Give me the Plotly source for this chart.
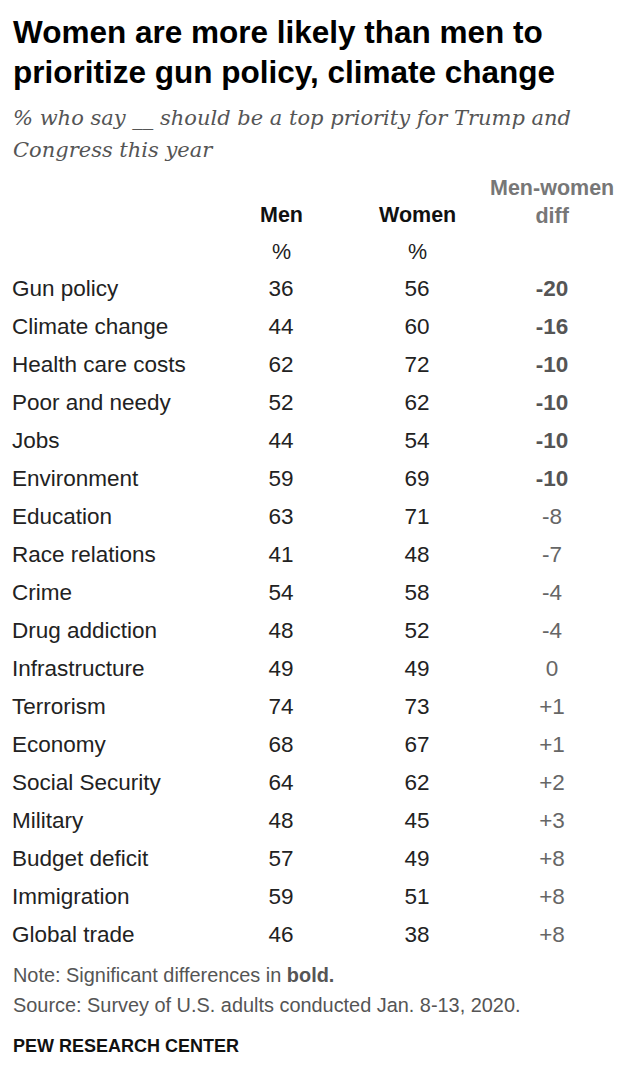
import plotly.graph_objects as go

categories = ["Gun policy", "Climate change", "Health care costs", "Poor and needy", "Jobs",
              "Environment", "Education", "Race relations", "Crime", "Drug addiction",
              "Infrastructure", "Terrorism", "Economy", "Social Security", "Military",
              "Budget deficit", "Immigration", "Global trade"]
men = [36, 44, 62, 52, 44, 59, 63, 41, 54, 48, 49, 74, 68, 64, 48, 57, 59, 46]
women = [56, 60, 72, 62, 54, 69, 71, 48, 58, 52, 49, 73, 67, 62, 45, 49, 51, 38]
diff_labels = ["-20", "-16", "-10", "-10", "-10", "-10", "-8", "-7", "-4", "-4",
               "0", "+1", "+1", "+2", "+3", "+8", "+8", "+8"]
significant = [True] * 6 + [False] * 12

OFF = 8  # page body margin
W, H = 636 - OFF, 1066 - OFF
ROW0, STEP = 290 - OFF, 38.0
X_LABEL, X_MEN, X_WOMEN, X_DIFF = 12 - OFF, 281 - OFF, 417 - OFF, 552 - OFF

rows = list(range(len(categories)))
FONT = "Liberation Sans, Arial, sans-serif"
BODY = 22.5

fig = go.Figure()
fig.add_trace(go.Scatter(x=[X_LABEL] * len(rows), y=rows, mode="text", text=categories,
                         textposition="middle right",
                         textfont=dict(family=FONT, size=BODY, color="#222")))
fig.add_trace(go.Scatter(x=[X_MEN] * len(rows), y=rows, mode="text", text=[str(v) for v in men],
                         textposition="middle center",
                         textfont=dict(family=FONT, size=BODY, color="#222")))
fig.add_trace(go.Scatter(x=[X_WOMEN] * len(rows), y=rows, mode="text", text=[str(v) for v in women],
                         textposition="middle center",
                         textfont=dict(family=FONT, size=BODY, color="#222")))
diff_text = [f"<b>{t}</b>" if s else t for t, s in zip(diff_labels, significant)]
diff_col = ["#555" if s else "#666" for s in significant]
fig.add_trace(go.Scatter(x=[X_DIFF] * len(rows), y=rows, mode="text", text=diff_text,
                         textposition="middle center",
                         textfont=dict(family=FONT, size=BODY, color=diff_col)))

# column headers (in data coordinates, rows above the first)
hdr = [
    (X_MEN, -1.97, "<b>Men</b>", "#111"),
    (X_WOMEN, -1.97, "<b>Women</b>", "#111"),
    (X_MEN, -1.0, "%", "#222"),
    (X_WOMEN, -1.0, "%", "#222"),
    (X_DIFF, -2.32, "<b>Men-women<br>diff</b>", "#777"),
]
for x, y, t, c in hdr:
    fig.add_annotation(x=x, y=y, xref="x", yref="y", text=t, showarrow=False,
                       xanchor="center", yanchor="middle", align="center",
                       font=dict(family=FONT, size=21.5, color=c))

def paper_y(p):
    return 1 - (p - OFF) / H

TITLE = dict(family=FONT, size=31.5, color="#000")
SUB = dict(family="DejaVu Serif, serif", size=21, color="#555")
NOTE = dict(family=FONT, size=19.9, color="#555")
texts = [
    (32, "<b>Women are more likely than men to</b>", TITLE),
    (72, "<b>prioritize gun policy, climate change</b>", TITLE),
    (118, "<i>% who say __ should be a top priority for Trump and</i>", SUB),
    (150, "<i>Congress this year</i>", SUB),
    (975, "Note: Significant differences in <b>bold.</b>", NOTE),
    (1005, "Source: Survey of U.S. adults conducted Jan. 8-13, 2020.", NOTE),
    (1046, "<b>PEW RESEARCH CENTER</b>", dict(family=FONT, size=18, color="#111")),
]
for p, t, f in texts:
    fig.add_annotation(x=X_LABEL / W, y=paper_y(p), xref="paper", yref="paper", text=t,
                       showarrow=False, xanchor="left", yanchor="middle", align="left",
                       font=f, borderpad=0)

y_top = (0 - ROW0) / STEP
y_bot = (H - ROW0) / STEP
fig.update_layout(
    width=W, height=H, margin=dict(l=0, r=0, t=0, b=0),
    paper_bgcolor="white", plot_bgcolor="white", showlegend=False,
    xaxis=dict(range=[0, W], visible=False, fixedrange=True),
    yaxis=dict(range=[y_bot, y_top], visible=False, fixedrange=True),
)
fig.write_html("out.html", config={"displayModeBar": False})
